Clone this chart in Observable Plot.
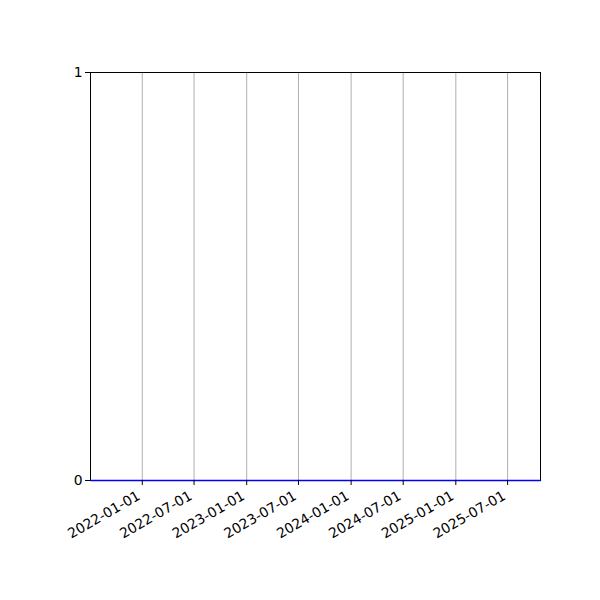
<!DOCTYPE html>
<html>
<head>
<meta charset="utf-8">
<script src="https://cdn.jsdelivr.net/npm/d3@7"></script>
<script src="https://cdn.jsdelivr.net/npm/@observablehq/plot@0.6"></script>
<style>
  html, body { margin: 0; padding: 0; background: #fff; }
  #chart svg { display: block; }
</style>
</head>
<body>
<div id="chart"></div>
<script>
const dates = ["2021-07-04", "2022-01-01", "2022-07-01", "2023-01-01", "2023-07-01", "2024-01-01", "2024-07-01", "2025-01-01", "2025-07-01", "2025-10-24"];
const values = [0, 0, 0, 0, 0, 0, 0, 0, 0, 0];
const xTicks = ["2022-01-01", "2022-07-01", "2023-01-01", "2023-07-01", "2024-01-01", "2024-07-01", "2025-01-01", "2025-07-01"];
const yTicks = [0, 1];
const xDomain = ["2021-07-04", "2025-10-24"];

const parse = d3.utcParse("%Y-%m-%d");
const fmt = d3.utcFormat("%Y-%m-%d");
const data = dates.map((d, i) => ({date: parse(d), value: values[i]}));
const tickDates = xTicks.map(parse);

const chart = Plot.plot({
  width: 600,
  height: 600,
  marginLeft: 90,
  marginRight: 60,
  marginTop: 72,
  marginBottom: 120,
  style: {fontFamily: "DejaVu Sans", fontSize: "13.9px", color: "#000", background: "#fff"},
  x: {type: "utc", domain: xDomain.map(parse)},
  y: {domain: [0, 1]},
  marks: [
    Plot.gridX(tickDates, {stroke: "#b0b0b0", strokeOpacity: 1, strokeWidth: 1}),
    Plot.frame({stroke: "#000", strokeWidth: 1}),
    Plot.lineY(data, {x: "date", y: "value", stroke: "#0000ff", strokeWidth: 1.5}),
    Plot.axisX({ticks: tickDates, tickFormat: () => "", tickSize: 5, label: null, stroke: "#000"}),
    Plot.text(tickDates, {x: d => d, y: () => 0, text: d => fmt(d), rotate: -30, textAnchor: "end", lineAnchor: "bottom", dx: -1, dy: 18, fill: "#000", fontSize: 13.9}),
    Plot.axisY({ticks: yTicks, tickFormat: d => String(d), tickSize: 5, tickPadding: 3, label: null, stroke: "#000", fill: "#000"})
  ]
});
document.getElementById("chart").appendChild(chart);
</script>
</body>
</html>
